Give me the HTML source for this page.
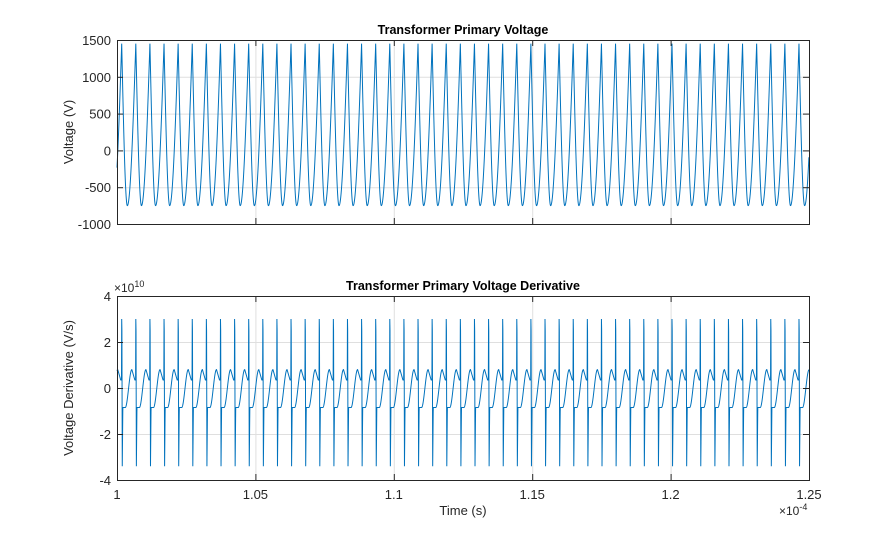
<!DOCTYPE html>
<html><head><meta charset="utf-8"><style>
body{margin:0;background:#fff}
svg{display:block;font-family:"Liberation Sans",sans-serif}
</style></head><body>
<svg id="s" width="895" height="540" xmlns="http://www.w3.org/2000/svg">
<rect width="895" height="540" fill="#fff"/>
<g id="grid" stroke="#dfdfdf" stroke-width="1"></g>
<polyline id="v" fill="none" stroke="#0072bd" stroke-width="1" points=""/>
<polyline id="d" fill="none" stroke="#0072bd" stroke-width="1" points=""/>
<g id="ax" fill="none" stroke="#262626" stroke-width="1">
<rect x="117.5" y="40.5" width="692" height="184"/>
<rect x="117.5" y="296.5" width="692" height="184"/>
</g>
<g id="tk" stroke="#262626" stroke-width="1"></g>
<g id="tx" font-size="13" fill="#262626"></g>
<text x="463" y="34" font-size="12.5" font-weight="bold" text-anchor="middle" fill="#000">Transformer Primary Voltage</text>
<text x="463" y="290" font-size="12.5" font-weight="bold" text-anchor="middle" fill="#000">Transformer Primary Voltage Derivative</text>
<text transform="translate(73,132) rotate(-90)" font-size="13" text-anchor="middle" fill="#262626">Voltage (V)</text>
<text transform="translate(73,388) rotate(-90)" font-size="13" text-anchor="middle" fill="#262626">Voltage Derivative (V/s)</text>
<text x="463" y="515" font-size="13" text-anchor="middle" fill="#262626">Time (s)</text>
<text x="114" y="292" font-size="12" fill="#262626">×10<tspan dy="-5" font-size="9">10</tspan></text>
<text x="779" y="515" font-size="12" fill="#262626">×10<tspan dy="-5" font-size="9">-4</tspan></text>
</svg>
<script>
var NS="http://www.w3.org/2000/svg";
function el(p,t,a,txt){var e=document.createElementNS(NS,t);for(var k in a)e.setAttribute(k,a[k]);if(txt!=null)e.textContent=txt;p.appendChild(e);}
var g=document.getElementById('grid'),tk=document.getElementById('tk'),tx=document.getElementById('tx');
var xs=[117,255.4,393.8,532.2,670.6,809],xl=['1','1.05','1.1','1.15','1.2','1.25'];
xs.forEach(function(x,i){
 [[40,224],[296,480]].forEach(function(r){
  if(i>0&&i<5)el(g,'line',{x1:x+.5,x2:x+.5,y1:r[0],y2:r[1]});
  el(tk,'line',{x1:x+.5,x2:x+.5,y1:r[1],y2:r[1]-6});el(tk,'line',{x1:x+.5,x2:x+.5,y1:r[0],y2:r[0]+6});
 });
 el(tx,'text',{x:x,y:499,'text-anchor':'middle'},xl[i]);
});
var yl1=['1500','1000','500','0','-500','-1000'];
for(var i=0;i<6;i++){var y=40+i*36.8;if(i>0&&i<5)el(g,'line',{x1:117,x2:809,y1:y+.5,y2:y+.5});
 el(tk,'line',{x1:117,x2:123,y1:y+.5,y2:y+.5});el(tk,'line',{x1:803,x2:809,y1:y+.5,y2:y+.5});
 el(tx,'text',{x:111,y:y+5,'text-anchor':'end'},yl1[i]);}
var yl2=['4','2','0','-2','-4'];
for(var i=0;i<5;i++){var y=296+i*46;if(i>0&&i<4)el(g,'line',{x1:117,x2:809,y1:y+.5,y2:y+.5});
 el(tk,'line',{x1:117,x2:123,y1:y+.5,y2:y+.5});el(tk,'line',{x1:803,x2:809,y1:y+.5,y2:y+.5});
 el(tx,'text',{x:111,y:y+5,'text-anchor':'end'},yl2[i]);}
var T=14.11,x0=121.7;
function V(p){
 if(p<0.4){var q=p/0.4;return 1450-2200*Math.sin(q*Math.PI/2);}
 var q=(p-0.4)/0.6;return -750+2200*(1-Math.cos(q*Math.PI/2));}
function D(p){
 if(p<0.015)return 3-p/0.015*0.5;
 if(p<0.04)return 2.5-(p-0.015)/0.025*5.9;
 if(p<0.08)return -3.4+(p-0.04)/0.04*2.55;
 if(p<0.25)return -0.85;
 if(p<0.72){var q=(p-0.25)/0.47;return -0.85+1.65*(1-Math.cos(q*Math.PI))/2;}
 if(p<0.93){var q=(p-0.72)/0.21;return 0.8-0.45*q;}
 if(p<0.985)return 0.35;
 return 0.35+(p-0.985)/0.015*2.65;}
var X=[];
for(var x=117;x<=809;x+=0.1)X.push(x);
for(var k=-1;k<52;k++){[0,0.015,0.04,0.985,0.9999].forEach(function(f){var x=x0+(k+f)*T;if(x>=117&&x<=809)X.push(x);});}
X.sort(function(a,b){return a-b});
var pv=[],pd=[];
X.forEach(function(x){var p=((x-x0)/T)%1;if(p<0)p+=1;
 pv.push(x.toFixed(2)+','+(40+(1500-V(p))*0.0736).toFixed(2));
 pd.push(x.toFixed(2)+','+(388-D(p)*23).toFixed(2));});
document.getElementById('v').setAttribute('points',pv.join(' '));
document.getElementById('d').setAttribute('points',pd.join(' '));
</script>
</body></html>
